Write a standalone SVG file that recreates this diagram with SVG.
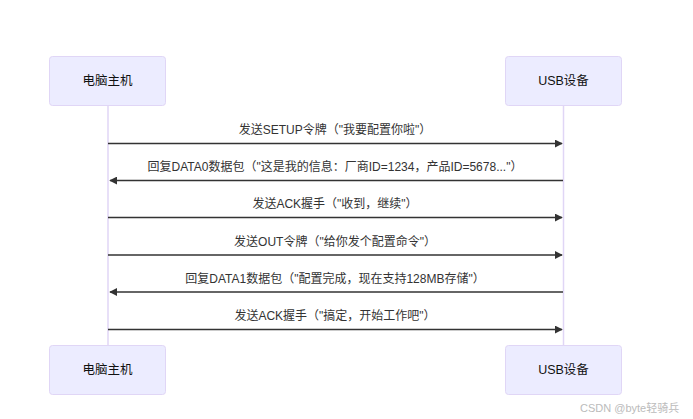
<svg xmlns="http://www.w3.org/2000/svg" width="693" height="419" viewBox="0 0 693 419">
<defs>
<style>
.actor{fill:#ECECFF;stroke:#E0D6F6;stroke-width:1}
.atxt{font-family:"Liberation Sans","Noto Sans CJK SC",sans-serif;font-size:12.5px;fill:#111;text-anchor:middle;dominant-baseline:central}
.life{stroke:#E0D6F6;stroke-width:1.5}
.msg{stroke:#333;stroke-width:1.5;fill:none}
.mtxt{font-family:"Liberation Sans","Noto Sans CJK SC",sans-serif;font-size:12px;fill:#333;text-anchor:middle}
.wm{font-family:"Liberation Sans","Noto Sans CJK SC",sans-serif;font-size:11px;fill:#bbb}
</style>
<marker id="ah" viewBox="0 0 10 10" refX="9" refY="5" markerWidth="8" markerHeight="8" markerUnits="userSpaceOnUse" orient="auto">
<path d="M0,0 L10,5 L0,10 z" fill="#333"/>
</marker>
</defs>
<rect width="693" height="419" fill="#fff"/>
<g id="lifelines">
<line class="life" x1="108" y1="106" x2="108" y2="345"/>
<line class="life" x1="563.5" y1="106" x2="563.5" y2="345"/>
</g>
<g id="host-top"><rect class="actor" x="49.5" y="56.5" width="116" height="49" rx="3"/><text class="atxt" x="107.5" y="81">电脑主机</text></g>
<g id="usb-top"><rect class="actor" x="505.5" y="56.5" width="116" height="49" rx="3"/><text class="atxt" x="563.5" y="81">USB设备</text></g>
<g id="host-bottom"><rect class="actor" x="49.5" y="345.5" width="116" height="49" rx="3"/><text class="atxt" x="107.5" y="370">电脑主机</text></g>
<g id="usb-bottom"><rect class="actor" x="505.5" y="345.5" width="116" height="49" rx="3"/><text class="atxt" x="563.5" y="370">USB设备</text></g>
<g id="connectors">
<line class="msg" x1="108" y1="143.5" x2="562" y2="143.5" marker-end="url(#ah)"/>
<text class="mtxt" x="335" y="134">发送SETUP令牌（"我要配置你啦"）</text>
<line class="msg" x1="563" y1="180.5" x2="110" y2="180.5" marker-end="url(#ah)"/>
<text class="mtxt" x="335" y="171">回复DATA0数据包（"这是我的信息：厂商ID=1234，产品ID=5678..."）</text>
<line class="msg" x1="108" y1="217.5" x2="562" y2="217.5" marker-end="url(#ah)"/>
<text class="mtxt" x="335" y="208">发送ACK握手（"收到，继续"）</text>
<line class="msg" x1="108" y1="255" x2="562" y2="255" marker-end="url(#ah)"/>
<text class="mtxt" x="335" y="245.5">发送OUT令牌（"给你发个配置命令"）</text>
<line class="msg" x1="563" y1="292" x2="110" y2="292" marker-end="url(#ah)"/>
<text class="mtxt" x="335" y="282.5">回复DATA1数据包（"配置完成，现在支持128MB存储"）</text>
<line class="msg" x1="108" y1="329.5" x2="562" y2="329.5" marker-end="url(#ah)"/>
<text class="mtxt" x="335" y="319.5">发送ACK握手（"搞定，开始工作吧"）</text>
</g>
<text class="wm" x="580" y="412">CSDN @byte轻骑兵</text>
</svg>
